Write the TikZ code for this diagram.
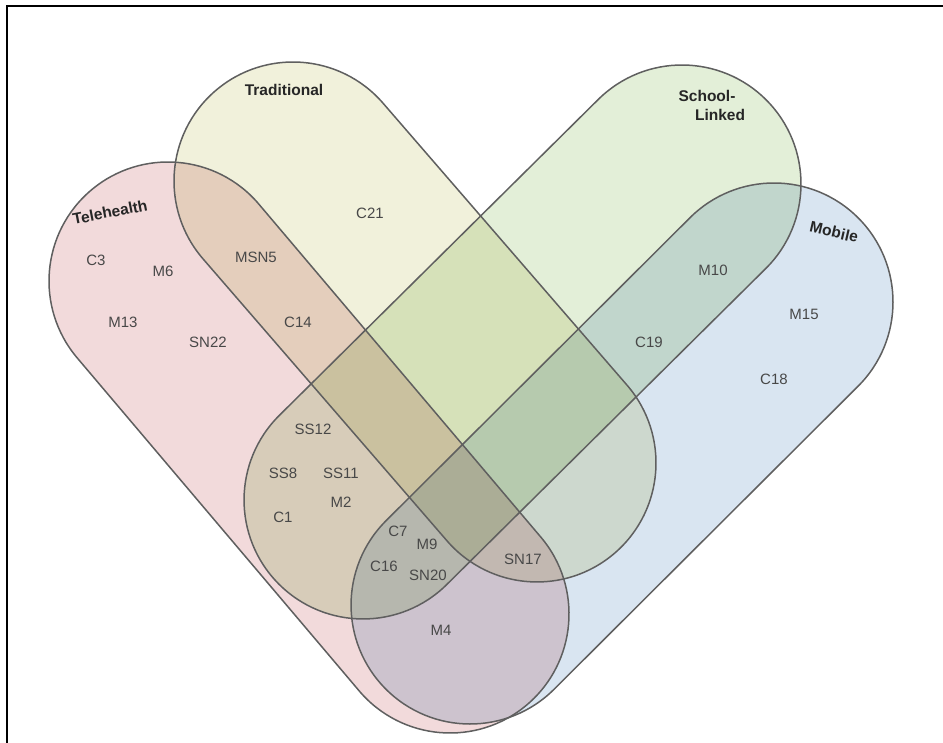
\documentclass[tikz,border=0pt]{standalone}
\usepackage{fontspec}
\setmainfont{Liberation Sans}
\definecolor{telec}{RGB}{242,218,219}
\definecolor{tradc}{RGB}{241,241,219}
\definecolor{schoolc}{RGB}{227,239,216}
\definecolor{mobc}{RGB}{217,229,241}
\definecolor{edgec}{RGB}{95,95,95}
\definecolor{itemc}{RGB}{72,72,72}
\definecolor{labc}{RGB}{38,38,38}
\newcommand\stadshape[4]{%
  \path[#1, shift={(#2)}, rotate=#3] (0,119) arc[start angle=90,end angle=270,radius=119]
    -- (#4,-119) arc[start angle=-90,end angle=90,radius=119] -- cycle;}
\begin{document}
\begin{tikzpicture}[x=1pt,y=1pt,
  outline/.style={draw=edgec, line width=1.5pt, line join=round},
  item/.style={text=itemc, font=\fontsize{15}{18}\selectfont, inner sep=0pt},
  setlabel/.style={text=labc, font=\bfseries\fontsize{15.5}{19}\selectfont, inner sep=0pt}]
\useasboundingbox (0,0) rectangle (943,-743);
\fill[white] (0,0) rectangle (943,-743);
% frame
\draw[line width=2pt, black] (7,-743) -- (7,-6) -- (943,-6);
% cap centres
\coordinate (teleA) at (168,-281);
\coordinate (tradA) at (293,-181);
\coordinate (schoolA) at (682,-184);
\coordinate (mobA) at (774,-302);
% fills
\begin{scope}[blend group=multiply]
\stadshape{fill=telec}{teleA}{-49.74}{436.4}
\stadshape{fill=tradc}{tradA}{-49.13}{372.9}
\stadshape{fill=schoolc}{schoolA}{-135.27}{449.0}
\stadshape{fill=mobc}{mobA}{-135.09}{429.2}
\end{scope}
% outlines
\stadshape{outline}{teleA}{-49.74}{436.4}
\stadshape{outline}{tradA}{-49.13}{372.9}
\stadshape{outline}{schoolA}{-135.27}{449.0}
\stadshape{outline}{mobA}{-135.09}{429.2}
% set labels
\node[setlabel, rotate=11] (ltele) at (110,-212) {Telehealth};
\node[setlabel] (ltrad) at (284,-90) {Traditional};
\node[setlabel] (lschool1) at (707,-96) {School-};
\node[setlabel] (lschool2) at (720,-115) {Linked};
\node[setlabel, rotate=-13] (lmob) at (834,-232) {Mobile};
% items
\node[item] (c3) at (96,-260) {C3};
\node[item] (m6) at (163,-271) {M6};
\node[item] (m13) at (123,-322) {M13};
\node[item] (sn22) at (208,-342) {SN22};
\node[item] (msn5) at (256,-257) {MSN5};
\node[item] (c14) at (298,-322) {C14};
\node[item] (c21) at (370,-213) {C21};
\node[item] (ss12) at (313,-429) {SS12};
\node[item] (ss8) at (283,-473) {SS8};
\node[item] (ss11) at (341,-473) {SS11};
\node[item] (m2) at (341,-502) {M2};
\node[item] (c1) at (283,-517) {C1};
\node[item] (c7) at (398,-531) {C7};
\node[item] (m9) at (427,-544) {M9};
\node[item] (c16) at (384,-566) {C16};
\node[item] (sn20) at (428,-575) {SN20};
\node[item] (sn17) at (523,-559) {SN17};
\node[item] (m4) at (441,-630) {M4};
\node[item] (m10) at (713,-270) {M10};
\node[item] (c19) at (649,-342) {C19};
\node[item] (m15) at (804,-314) {M15};
\node[item] (c18) at (774,-379) {C18};
\end{tikzpicture}
\end{document}
